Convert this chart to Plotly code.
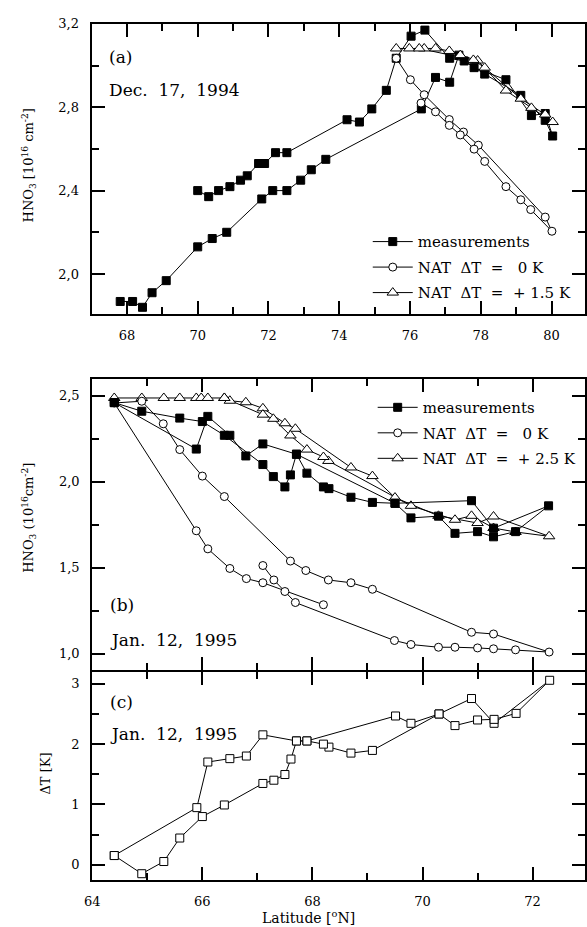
import plotly.graph_objects as go

W, H = 587, 927

# ---------------- data (a) Dec. 17, 1994 ----------------
lat_a_meas = [67.81, 68.16, 68.44, 68.71, 69.11, 70.0, 70.41, 70.82, 71.81, 72.12, 72.52, 72.91, 73.21, 73.62,
              76.32, 76.72, 77.12, 77.38, 77.81, 78.71, 79.43, 79.82, 80.03,
              79.82, 79.13, 78.11, 77.53, 77.12, 76.42, 76.03, 75.61, 75.33, 74.92, 74.57, 74.22,
              72.52, 72.2, 71.89, 71.72, 71.4, 71.21, 70.91, 70.59, 70.31, 70.0]
hno3_a_meas = [1.868, 1.868, 1.84, 1.91, 1.968, 2.13, 2.17, 2.20, 2.36, 2.40, 2.40, 2.45, 2.50, 2.55,
               2.792, 2.943, 2.92, 3.05, 2.99, 2.932, 2.76, 2.77, 2.662,
               2.737, 2.857, 2.959, 3.022, 3.035, 3.17, 3.141, 3.035, 2.881, 2.792, 2.729, 2.74,
               2.582, 2.582, 2.53, 2.53, 2.471, 2.45, 2.419, 2.40, 2.371, 2.40]

lat_a_nat0 = [75.61, 76.01, 76.4, 77.11, 77.51, 77.93, 79.82, 80.01, 79.41, 79.13, 78.71, 78.11, 77.81,
              77.42, 77.11, 76.72, 76.31]
hno3_a_nat0 = [3.035, 2.932, 2.86, 2.741, 2.681, 2.618, 2.273, 2.205, 2.309, 2.356, 2.419, 2.54, 2.599,
               2.667, 2.713, 2.778, 2.82]

lat_a_nat15 = [75.61, 75.98, 76.4, 76.72, 77.11, 77.42, 77.91, 78.71, 79.43, 80.03,
               79.82, 79.13, 78.11, 77.79, 76.26]
hno3_a_nat15 = [3.082, 3.082, 3.082, 3.082, 3.07, 3.05, 3.024, 2.88, 2.797, 2.729,
                2.765, 2.841, 2.99, 3.027, 3.082]

# ---------------- data (b) Jan. 12, 1995 ----------------
lat_b_meas = [64.4, 64.9, 65.59, 66.0, 66.4, 67.1, 67.29, 67.5, 67.6, 67.71, 67.9, 68.2, 68.3, 68.7, 69.09,
              69.5, 70.89, 71.29, 72.29, 71.69, 71.29, 71.0, 70.59, 70.29, 69.79, 69.5,
              67.71, 67.1, 66.79, 66.5, 66.1, 65.89, 64.4]
hno3_b_meas = [2.46, 2.41, 2.37, 2.35, 2.27, 2.10, 2.03, 1.97, 2.04, 2.16, 2.05, 1.97, 1.96, 1.91, 1.88,
               1.875, 1.89, 1.73, 1.86, 1.71, 1.68, 1.71, 1.70, 1.80, 1.79, 1.875,
               2.16, 2.22, 2.15, 2.27, 2.38, 2.19, 2.46]

lat_b_nat0 = [68.2, 67.1, 66.8, 66.5, 66.1, 65.89, 64.4, 64.9, 65.29, 65.59, 66.0, 66.4, 67.6, 67.88, 68.29,
              68.7, 69.09, 70.89, 71.29, 72.3, 71.69, 71.29, 71.0, 70.59, 70.29, 69.79, 69.49, 67.69,
              67.5, 67.3, 67.1]
hno3_b_nat0 = [1.285, 1.413, 1.437, 1.496, 1.61, 1.715, 2.458, 2.468, 2.337, 2.187, 2.033, 1.914, 1.539,
               1.484, 1.429, 1.413, 1.375, 1.125, 1.115, 1.01, 1.023, 1.029, 1.034, 1.038, 1.038, 1.054,
               1.077, 1.298, 1.362, 1.429, 1.513]

lat_b_nat25 = [64.4, 64.9, 65.3, 65.59, 65.89, 65.98, 66.1, 66.4, 66.5, 66.79, 67.1, 67.5, 67.69, 68.7,
               69.09, 69.5, 70.29, 71.0, 71.29, 72.3, 71.69, 71.29, 70.89, 70.59, 69.79, 68.29, 68.2,
               67.9, 67.6, 67.29, 67.1, 66.4]
hno3_b_nat25 = [2.487, 2.487, 2.487, 2.487, 2.487, 2.487, 2.487, 2.487, 2.471, 2.462, 2.427, 2.34, 2.308,
                2.083, 2.033, 1.908, 1.802, 1.76, 1.798, 1.683, 1.708, 1.731, 1.802, 1.779, 1.86, 2.121,
                2.144, 2.187, 2.269, 2.366, 2.39, 2.487]

# ---------------- data (c) Jan. 12, 1995 ----------------
lat_c = [64.4, 65.9, 66.1, 66.5, 66.8, 67.1, 67.71, 67.9, 69.51, 69.79, 70.3, 70.89, 71.3, 72.31,
         71.7, 71.3, 71.0, 70.59, 70.3, 69.09, 68.7, 68.3, 68.2, 67.9, 67.71, 67.61, 67.5, 67.3, 67.1,
         66.4, 66.0, 65.59, 65.3, 64.9, 64.4]
dT_c = [0.153, 0.946, 1.701, 1.757, 1.80, 2.151, 2.05, 2.05, 2.463, 2.342, 2.496, 2.752, 2.342, 3.054,
        2.506, 2.407, 2.397, 2.304, 2.496, 1.893, 1.849, 1.948, 1.997, 2.05, 2.05, 1.75, 1.494, 1.40, 1.346,
        0.99, 0.798, 0.443, 0.054, -0.148, 0.153]

# ---------------- helpers for layout positions ----------------
def fx(p):
    return p / W

def fy(p):
    return 1 - p / H

FONT = "DejaVu Serif"
NB = "\u00a0"

line_style = dict(color="black", width=1)
sq_filled = dict(symbol="square", size=8, color="black", line=dict(color="black", width=1))
circ_open = dict(symbol="circle", size=8, color="white", line=dict(color="black", width=1))
tri_open = dict(symbol="triangle-up", size=10, color="white", line=dict(color="black", width=1))
sq_open = dict(symbol="square", size=8, color="white", line=dict(color="black", width=1))

fig = go.Figure()

def add(x, y, marker, name, xa, ya, legend=None, rank=None):
    fig.add_trace(go.Scatter(
        x=x, y=y, mode="lines+markers", line=line_style, marker=marker, name=name,
        xaxis=xa, yaxis=ya, showlegend=legend is not None, legend=legend or "legend",
        legendgroup=name + (legend or ""), legendrank=rank or 1000))

lbl_nat0 = f"NAT{NB}{NB}ΔT{NB}{NB}={NB}{NB}{NB}0{NB}K"
lbl_nat15 = f"NAT{NB}{NB}ΔT{NB}{NB}={NB}{NB}+{NB}1.5{NB}K"
lbl_nat25 = f"NAT{NB}{NB}ΔT{NB}{NB}={NB}{NB}+{NB}2.5{NB}K"

add(lat_a_meas, hno3_a_meas, sq_filled, "measurements", "x", "y", "legend", 1)
add(lat_a_nat0, hno3_a_nat0, circ_open, lbl_nat0, "x", "y", "legend", 2)
add(lat_a_nat15, hno3_a_nat15, tri_open, lbl_nat15, "x", "y", "legend", 3)

add(lat_b_nat25, hno3_b_nat25, tri_open, lbl_nat25, "x2", "y2", "legend2", 3)
add(lat_b_nat0, hno3_b_nat0, circ_open, lbl_nat0, "x2", "y2", "legend2", 2)
add(lat_b_meas, hno3_b_meas, sq_filled, "measurements", "x2", "y2", "legend2", 1)

add(lat_c, dT_c, sq_open, "ΔT", "x3", "y3", None)

tickfont = dict(family=FONT, size=13, color="black")
common_ax = dict(showline=True, linecolor="black", linewidth=2, mirror="ticks", ticks="inside",
                 tickcolor="black", tickwidth=1.5, ticklen=13, showgrid=False, zeroline=False,
                 tickfont=tickfont)

def minor(d):
    return dict(dtick=d, ticks="inside", ticklen=7, tickcolor="black", tickwidth=1.5, showgrid=False)

L_a, L_bc, R = 85, 85.7, W
B_BOT = 668.3   # bottom of panel (b) plot area
C_TOP = 670.3   # top of panel (c) plot area (shared axis line drawn between)
legfont = dict(family=FONT, size=15, color="black")
fig.update_layout(
    width=W, height=H, margin=dict(l=0, r=0, t=0, b=0),
    paper_bgcolor="white", plot_bgcolor="white",
    separators=",.",
    font=dict(family=FONT, color="black"),
    xaxis=dict(**common_ax, domain=[fx(L_a), 1], anchor="y", range=[67, 67 + (R - L_a) / 36],
               tick0=68, dtick=2, minor=minor(1), ticklabelstandoff=9),
    yaxis=dict(**common_ax, domain=[fy(309), fy(17)], anchor="x", range=[3.2 - 292 / 210, 3.2],
               tick0=2.0, dtick=0.4, tickformat=".1f", minor=minor(0.2), ticklabelstandoff=8),
    xaxis2=dict(**common_ax, domain=[fx(L_bc), 1], anchor="y2", range=[64, 64 + (R - L_bc) / 56],
                dtick=2, minor=minor(1), showticklabels=False),
    yaxis2=dict(**common_ax, domain=[fy(B_BOT), fy(375)], anchor="x2",
                range=[1.0 - (B_BOT - 651.7) / 173.3, 2.5 + 16.7 / 173.3],
                tick0=1.0, dtick=0.5, tickformat=".1f", minor=minor(0.25), ticklabelstandoff=8),
    xaxis3=dict(**common_ax, domain=[fx(L_bc), 1], anchor="y3", range=[64, 64 + (R - L_bc) / 56],
                dtick=2, minor=minor(1), ticklabelstandoff=9),
    yaxis3=dict(**common_ax, domain=[fy(879.3), fy(C_TOP)], anchor="x3",
                range=[-15 / 60.9, 3 + (681.7 - C_TOP) / 60.9],
                tick0=0, dtick=1, tickformat="d", minor=minor(0.5), ticklabelstandoff=8),
    legend=dict(x=fx(366), y=fy(220), xanchor="left", yanchor="top", bgcolor="rgba(0,0,0,0)",
                font=legfont, tracegroupgap=3, traceorder="grouped", itemwidth=40),
    legend2=dict(x=fx(371), y=fy(387), xanchor="left", yanchor="top", bgcolor="rgba(0,0,0,0)",
                 font=legfont, tracegroupgap=3, traceorder="grouped", itemwidth=40),
)

def ann(text, x, y, size=17, angle=0, xanchor="left"):
    fig.add_annotation(text=text, x=fx(x), y=fy(y), xref="paper", yref="paper", showarrow=False,
                       xanchor=xanchor, yanchor="middle", textangle=angle,
                       font=dict(family=FONT, size=size, color="black"))

D = NB + NB
ann("(a)", 101, 50)
ann(f"Dec.{D}17,{D}1994", 101, 84)
ann("(b)", 102, 603)
ann(f"Jan.{D}12,{D}1995", 102, 638)
ann("(c)", 102, 700)
ann(f"Jan.{D}12,{D}1995", 102, 733)

ann("HNO<sub>3</sub> [10<sup>16</sup> cm<sup>-2</sup>]", 21, 160, size=13, angle=-90, xanchor="center")
ann("HNO<sub>3</sub> (10<sup>16</sup>cm<sup>-2</sup>]", 21, 515, size=13, angle=-90, xanchor="center")
ann("ΔT [K]", 38, 772, size=13, angle=-90, xanchor="center")
ann("Latitude [<sup>o</sup>N]", 306, 917, size=14, xanchor="center")

fig.write_html("out.html")
